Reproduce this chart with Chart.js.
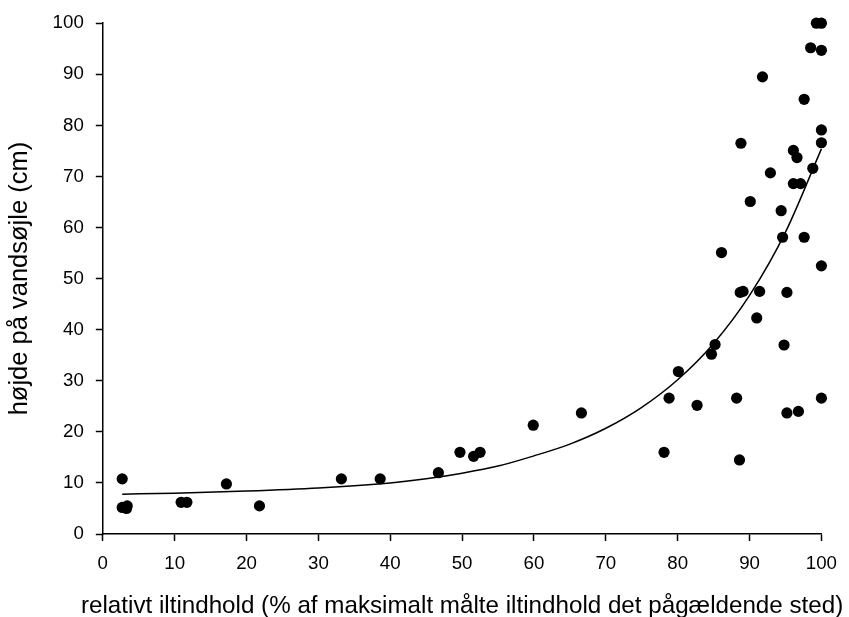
<!DOCTYPE html>
<html><head><meta charset="utf-8">
<script src="https://cdn.jsdelivr.net/npm/chart.js@4/dist/chart.umd.min.js"></script>
<style>html,body{margin:0;padding:0;background:#fff;} canvas{display:block;}</style>
</head><body>
<canvas id="c" width="849" height="617"></canvas>
<script>
// Measured points: relative oxygen content (%) vs height of water column (cm)
const oxygenPct = [2.7, 2.7, 3.3, 3.4, 10.9, 11.7, 17.2, 21.8, 33.2, 38.6, 46.7, 49.7, 51.6, 52.5, 59.9, 66.6,
  78.1, 78.8, 80.1, 82.7, 84.7, 85.2, 86.1, 88.2, 88.6, 88.7, 89.1, 88.8, 90.1, 91.0, 91.4, 91.8, 92.9,
  94.4, 94.6, 94.8, 95.2, 95.2, 96.1, 96.1, 96.6, 96.8, 97.1, 97.6, 97.6, 98.5, 98.8, 99.3, 100, 100, 100, 100, 100, 100];
const waterHeight = [10.8, 5.2, 5.0, 5.5, 6.2, 6.2, 9.8, 5.5, 10.8, 10.8, 12.0, 16.0, 15.2, 16.0, 21.3, 23.7,
  16.0, 26.6, 31.8, 25.2, 35.2, 37.1, 55.1, 26.6, 14.5, 47.3, 47.5, 76.5, 65.1, 42.3, 47.5, 89.5, 70.7,
  63.3, 58.1, 37.0, 47.3, 23.7, 75.1, 68.6, 73.7, 24.0, 68.6, 85.1, 58.1, 95.2, 71.6, 100, 100, 94.7, 79.1, 76.6, 52.5, 26.6];
// Trend curve
const fitOxygen = [2.7, 10, 20, 30, 40, 45, 50, 55, 60, 65, 70, 75, 80, 85, 90, 95, 100];
const fitHeight = [7.8, 8.0, 8.4, 9.0, 10.0, 10.8, 11.9, 13.3, 15.3, 17.6, 20.7, 24.8, 30.2, 37.3, 46.7, 59.1, 75.4];
// Tick labels
const xTickValues = [0, 10, 20, 30, 40, 50, 60, 70, 80, 90, 100];
const yTickValues = [0, 10, 20, 30, 40, 50, 60, 70, 80, 90, 100];
const xTitle = 'relativt iltindhold (% af maksimalt målte iltindhold det pågældende sted)';
const yTitle = 'højde på vandsøjle (cm)';

const FONT = "'Liberation Sans', Arial, sans-serif";
Chart.defaults.font.family = FONT;
Chart.defaults.color = '#000';

const axisCommon = () => ({
  type: 'linear', min: 0, max: 100,
  ticks: { padding: 12, font: { size: 18.7 }, color: '#000', maxRotation: 0, autoSkip: false },
  grid: { display: true, drawOnChartArea: false, drawTicks: true, tickLength: 7, tickColor: '#000', tickWidth: 1.5 },
  border: { display: true, color: '#000', width: 1.5 }
});

const xScale = axisCommon();
xScale.title = { display: false, text: xTitle };
xScale.afterBuildTicks = s => { s.ticks = xTickValues.map(v => ({ value: v })); };
xScale.afterFit = s => { s.height = 83; };
const yScale = axisCommon();
yScale.title = { display: true, text: yTitle, color: '#000', font: { size: 25.5, lineHeight: 0.8 }, padding: { top: 9.3, bottom: 0 } };
yScale.afterBuildTicks = s => { s.ticks = yTickValues.map(v => ({ value: v })); };
yScale.afterFit = s => { s.width = 102.8; };

// x-axis title drawn without width clamping (it is wider than the plot area)
const xTitlePlugin = {
  id: 'xTitlePlugin',
  afterDraw(chart) {
    const { ctx, chartArea } = chart;
    ctx.save();
    ctx.font = '24.2px ' + FONT;
    ctx.fillStyle = '#000';
    ctx.textAlign = 'center';
    ctx.textBaseline = 'alphabetic';
    ctx.fillText(xTitle, (chartArea.left + chartArea.right) / 2, 613.3);
    ctx.restore();
  }
};

new Chart(document.getElementById('c'), {
  type: 'scatter',
  data: {
    datasets: [
      {
        label: 'målinger',
        data: oxygenPct.map((x, i) => ({ x: x, y: waterHeight[i] })),
        backgroundColor: '#000', borderColor: '#000',
        pointRadius: 5.6, pointBorderWidth: 0, pointHoverRadius: 5.6,
        clip: false, order: 1
      },
      {
        label: 'tendens',
        data: fitOxygen.map((x, i) => ({ x: x, y: fitHeight[i] })),
        showLine: true, borderColor: '#000', borderWidth: 1.5,
        pointRadius: 0, pointHoverRadius: 0,
        cubicInterpolationMode: 'monotone', fill: false,
        clip: false, order: 2
      }
    ]
  },
  options: {
    responsive: false, animation: false,
    layout: { padding: { left: 0, right: 20, top: 23, bottom: 0 } },
    plugins: { legend: { display: false }, tooltip: { enabled: false } },
    scales: { x: xScale, y: yScale }
  },
  plugins: [xTitlePlugin]
});
</script>
</body></html>
